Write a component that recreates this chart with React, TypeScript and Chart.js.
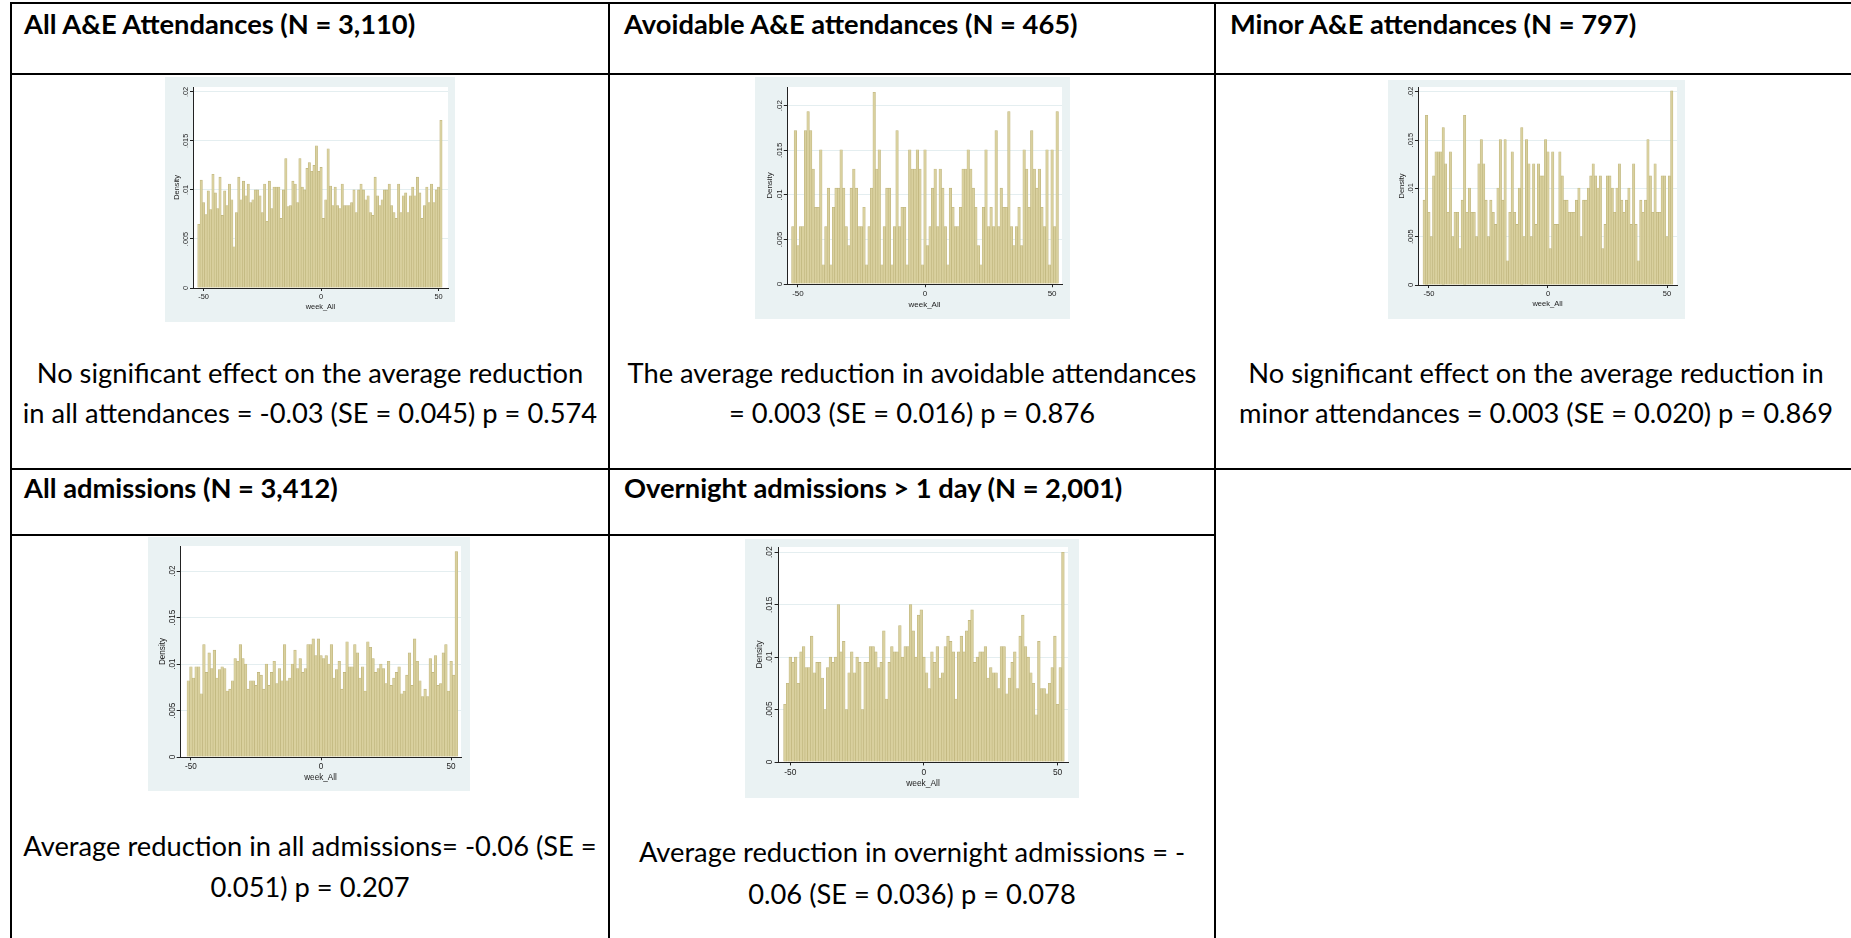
import React, { useEffect, useRef } from "react";
import { Chart, registerables } from "chart.js";

Chart.register(...registerables);

// ---------- data ----------
const WEEK_TICKS = [-50, 0, 50];
const DENSITY_TICKS = [0, 0.005, 0.01, 0.015, 0.02];
const DENSITY_LABELS = ["0", ".005", ".01", ".015", ".02"];

const ALL_AE_START = -52;
const ALL_AE = [
  0.0065, 0.011, 0.0087, 0.0075, 0.0099, 0.008, 0.0116, 0.0097, 0.0081, 0.0113,
  0.0074, 0.0099, 0.0084, 0.0106, 0.009, 0.0042, 0.0077, 0.0113, 0.009, 0.0109,
  0.0094, 0.0106, 0.0087, 0.009, 0.01, 0.01, 0.0094, 0.0077, 0.0106, 0.0068,
  0.0109, 0.0081, 0.0103, 0.0103, 0.0103, 0.0071, 0.01, 0.0132, 0.0083, 0.0084,
  0.0109, 0.0106, 0.0087, 0.0132, 0.0103, 0.01, 0.0122, 0.0128, 0.0119, 0.0125,
  0.0145, 0.0119, 0.0123, 0.0071, 0.009, 0.0142, 0.0104, 0.0084, 0.0103, 0.0084,
  0.0081, 0.0106, 0.0084, 0.0084, 0.0084, 0.0087, 0.01, 0.0077, 0.01, 0.0106,
  0.01, 0.009, 0.0094, 0.0077, 0.0074, 0.0113, 0.0094, 0.0084, 0.009, 0.01,
  0.01, 0.0106, 0.0084, 0.0077, 0.0071, 0.0106, 0.0077, 0.0094, 0.0097, 0.0077,
  0.0094, 0.0103, 0.0094, 0.0113, 0.0097, 0.0071, 0.0084, 0.0103, 0.0087, 0.0106,
  0.0087, 0.01, 0.0103, 0.0171,
];

const AVOIDABLE_START = -52;
const AVOIDABLE = [
  0.00645, 0.0172, 0.0043, 0.00645, 0.00645, 0.0172, 0.01935, 0.0172, 0.0129, 0.0086,
  0.0086, 0.01505, 0.00215, 0.00645, 0.01075, 0.00215, 0.0086, 0.01075, 0.01075, 0.01505,
  0.01075, 0.00645, 0.0043, 0.01075, 0.0129, 0.01075, 0.00645, 0.00645, 0.0086, 0.00215,
  0.00645, 0.01075, 0.0215, 0.0129, 0.01505, 0.00215, 0.00645, 0.01075, 0.01075, 0.00215,
  0.00645, 0.0172, 0.00645, 0.0086, 0.0086, 0.00215, 0.01505, 0.0129, 0.0129, 0.01505,
  0.0129, 0.00215, 0.01505, 0.0043, 0.00645, 0.01075, 0.0129, 0.00645, 0.0129, 0.01075,
  0.00645, 0.00215, 0.01075, 0.0086, 0.00645, 0.00645, 0.0086, 0.0129, 0.0129, 0.01505,
  0.0129, 0.01075, 0.0086, 0.0043, 0.00215, 0.0086, 0.01505, 0.00645, 0.0086, 0.00645,
  0.0172, 0.00645, 0.01075, 0.0086, 0.0086, 0.01935, 0.00645, 0.0043, 0.00645, 0.0086,
  0.0043, 0.01505, 0.0129, 0.0086, 0.0172, 0.0129, 0.01075, 0.0129, 0.0086, 0.00645,
  0.01505, 0.00215, 0.01505, 0.00645, 0.01935,
];

const MINOR_START = -52;
const MINOR = [
  0.00878, 0.01757, 0.00753, 0.00502, 0.0113, 0.0138, 0.0138, 0.0138, 0.0163, 0.01255,
  0.00753, 0.0138, 0.00502, 0.00753, 0.00753, 0.00376, 0.00878, 0.01757, 0.00753, 0.01004,
  0.00753, 0.00753, 0.00502, 0.01255, 0.01506, 0.01255, 0.00878, 0.00502, 0.00878, 0.00753,
  0.00627, 0.01004, 0.01506, 0.00878, 0.01506, 0.0025, 0.00753, 0.0138, 0.00753, 0.00627,
  0.01004, 0.0163, 0.00502, 0.01506, 0.01255, 0.00502, 0.01255, 0.00627,
  0.01255, 0.0113, 0.0113, 0.01506, 0.0138, 0.00376, 0.0138, 0.00627, 0.00627, 0.0138,
  0.0113, 0.00878, 0.00878, 0.00753, 0.00753, 0.00753, 0.00878, 0.01004, 0.00502, 0.00878,
  0.00878, 0.01004, 0.0113, 0.01255, 0.0113, 0.01004, 0.0113, 0.00376, 0.00627, 0.0113,
  0.0113, 0.01004, 0.00753, 0.01004, 0.01255, 0.00878, 0.00753, 0.00878, 0.01004, 0.00627,
  0.01255, 0.00627, 0.0025, 0.00878, 0.00753, 0.00878, 0.01506, 0.0113, 0.00753, 0.01255,
  0.00753, 0.00753, 0.0113, 0.0113, 0.00502, 0.0113, 0.0201,
];

const ADMISSIONS_START = -51;
const ADMISSIONS = [
  0.0082, 0.0097, 0.0085, 0.0097, 0.0097, 0.0068, 0.0121, 0.0091, 0.0112, 0.0095,
  0.0115, 0.0085, 0.0094, 0.0097, 0.0095, 0.0071, 0.0073, 0.0082, 0.0106, 0.0103,
  0.0121, 0.0106, 0.01, 0.0073, 0.0082, 0.0082, 0.0077, 0.0091, 0.0088, 0.0073,
  0.01, 0.0077, 0.0091, 0.0103, 0.0079, 0.0095, 0.0082, 0.0121, 0.0082, 0.0085,
  0.01, 0.0115, 0.0095, 0.0106, 0.0091, 0.0095, 0.0121, 0.0121, 0.0127,
  0.0109, 0.0127, 0.0109, 0.0106, 0.0109, 0.01, 0.0121, 0.0085, 0.0094, 0.0103,
  0.0073, 0.0091, 0.0124, 0.0097, 0.0097, 0.0121, 0.0112, 0.0085, 0.0097, 0.0071,
  0.0124, 0.0118, 0.0106, 0.0091, 0.0095, 0.01, 0.0095, 0.0079, 0.0103, 0.0077,
  0.0085, 0.0091, 0.0097, 0.0068, 0.0071, 0.0088, 0.0112, 0.0077, 0.0127, 0.0103,
  0.0082, 0.0065, 0.0073, 0.0065, 0.0106, 0.0091, 0.0109, 0.0077, 0.0079, 0.0112,
  0.0121, 0.0071, 0.0103, 0.0088, 0.0221,
];

const OVERNIGHT_START = -52;
const OVERNIGHT = [
  0.0055, 0.0075, 0.01, 0.0095, 0.01, 0.0075, 0.0105, 0.011, 0.009, 0.009,
  0.012, 0.0085, 0.0095, 0.0095, 0.008, 0.005, 0.009, 0.01, 0.0095, 0.01,
  0.015, 0.0105, 0.0115, 0.005, 0.0085, 0.0105, 0.0085, 0.01, 0.0095, 0.005,
  0.0095, 0.0095, 0.011, 0.011, 0.0105, 0.009, 0.0095, 0.0125, 0.006, 0.0095,
  0.011, 0.0105, 0.0105, 0.013, 0.01, 0.011, 0.011, 0.015,
  0.0125, 0.01, 0.014, 0.0145, 0.01, 0.0085, 0.007, 0.0105, 0.0095, 0.011,
  0.008, 0.0085, 0.011, 0.012, 0.0115, 0.0105, 0.006, 0.0105, 0.012, 0.0105,
  0.0125, 0.0135, 0.0145, 0.0095, 0.01, 0.0105, 0.0105, 0.011, 0.008, 0.009,
  0.0085, 0.0085, 0.007, 0.011, 0.011, 0.0065, 0.008, 0.0095, 0.0105, 0.007,
  0.012, 0.014, 0.011, 0.01, 0.0085, 0.0075, 0.0045, 0.0115, 0.007, 0.007,
  0.0065, 0.0075, 0.009, 0.012, 0.0055, 0.009, 0.02,
];

// ---------- styles ----------
const GRAPH_BG = "#EAF2F3";
const GRID = "#E4EEF0";
const BAR_FILL = "#D9D09E";
const BAR_EDGE = "#BDB37A";
const FONT_AXIS = '"Liberation Sans", Arial, sans-serif';
const FONT_TEXT = "Lato, 'Open Sans', sans-serif";

type Box = { left: number; top: number; w: number; h: number };
type Margin = { l: number; t: number; r: number; b: number };

function Histogram(props: {
  values: number[];
  start: number;
  yMax: number;
  xMin: number;
  xMax: number;
  box: Box;
  m: Margin;
  k: number;
}) {
  const { values, start, yMax, xMin, xMax, box, m, k } = props;
  const ref = useRef<HTMLCanvasElement | null>(null);
  useEffect(() => {
    const canvas = ref.current;
    if (!canvas) return;
    const fs = 7.4 * k;
    const plugin = {
      id: "stataFrame",
      beforeDraw(chart: any) {
        const { ctx, chartArea: a, width, height } = chart;
        ctx.save();
        ctx.fillStyle = GRAPH_BG;
        ctx.fillRect(0, 0, width, height);
        ctx.fillStyle = "#ffffff";
        ctx.fillRect(a.left, a.top, a.right - a.left, a.bottom - a.top);
        ctx.restore();
      },
      afterDraw(chart: any) {
        const { ctx, chartArea: a, scales } = chart;
        const ys = scales.y;
        ctx.save();
        ctx.fillStyle = "#222";
        ctx.font = `${fs}px ${FONT_AXIS}`;
        ctx.textAlign = "center";
        ctx.textBaseline = "middle";
        DENSITY_TICKS.forEach((v, i) => {
          const py = ys.getPixelForValue(v);
          ctx.save();
          ctx.translate(a.left - 7 * k, py);
          ctx.rotate(-Math.PI / 2);
          ctx.fillText(DENSITY_LABELS[i], 0, 0);
          ctx.restore();
        });
        ctx.save();
        ctx.translate(a.left - 16 * k, (a.top + a.bottom) / 2);
        ctx.rotate(-Math.PI / 2);
        ctx.fillText("Density", 0, 0);
        ctx.restore();
        ctx.fillText("week_All", (a.left + a.right) / 2, a.bottom + 19 * k);
        ctx.restore();
      },
    };
    const chart = new Chart(canvas, {
      type: "bar",
      data: {
        datasets: [
          {
            data: values.map((v, i) => ({ x: start + i, y: v })),
            backgroundColor: BAR_FILL,
            borderColor: BAR_EDGE,
            borderWidth: 0.6,
            borderSkipped: "start",
            barPercentage: 1,
            categoryPercentage: 1,
          } as any,
        ],
      },
      options: {
        animation: false,
        responsive: false,
        maintainAspectRatio: false,
        devicePixelRatio: 1,
        layout: { autoPadding: false, padding: { top: m.t, right: m.r, left: 0, bottom: 0 } },
        plugins: { legend: { display: false }, tooltip: { enabled: false } },
        scales: {
          x: {
            type: "linear",
            min: xMin,
            max: xMax,
            offset: false,
            afterBuildTicks: (s: any) => {
              s.ticks = WEEK_TICKS.map((v) => ({ value: v }));
            },
            afterFit: (s: any) => {
              s.height = m.b;
            },
            grid: {
              offset: false,
              drawOnChartArea: false,
              drawTicks: true,
              tickLength: 3 * k,
              tickColor: "#222",
              tickWidth: 1,
            },
            border: { display: true, color: "#222", width: 1 },
            ticks: {
              font: { size: fs, family: FONT_AXIS },
              color: "#222",
              padding: 1.5 * k,
              maxRotation: 0,
              autoSkip: false,
            },
          },
          y: {
            type: "linear",
            min: 0,
            max: yMax,
            afterBuildTicks: (s: any) => {
              s.ticks = DENSITY_TICKS.map((v) => ({ value: v }));
            },
            afterFit: (s: any) => {
              s.width = m.l;
            },
            grid: {
              drawOnChartArea: true,
              color: GRID,
              lineWidth: 1,
              drawTicks: true,
              tickLength: 3 * k,
              tickColor: "#222",
              tickWidth: 1,
            },
            border: { display: true, color: "#222", width: 1 },
            ticks: { display: false },
          },
        },
      } as any,
      plugins: [plugin],
    });
    return () => chart.destroy();
  }, []);
  return (
    <canvas
      ref={ref}
      width={box.w}
      height={box.h}
      style={{ position: "absolute", left: box.left, top: box.top, width: box.w, height: box.h }}
    />
  );
}

function TextLine(props: {
  text: string;
  x0: number;
  x1: number;
  cy: number;
  size: number;
  bold?: boolean;
  align?: "left" | "center";
}) {
  const { text, x0, x1, cy, size, bold, align } = props;
  const lh = Math.round(size * 1.3);
  return (
    <div
      style={{
        position: "absolute",
        left: x0,
        width: x1 - x0,
        top: cy - lh / 2,
        height: lh,
        lineHeight: `${lh}px`,
        fontSize: size,
        fontWeight: bold ? 700 : 400,
        fontFamily: FONT_TEXT,
        textAlign: align || "center",
        whiteSpace: "nowrap",
        color: "#000",
      }}
    >
      {text}
    </div>
  );
}

function HLine({ x0, x1, y }: { x0: number; x1: number; y: number }) {
  return <div style={{ position: "absolute", left: x0, top: y, width: x1 - x0, height: 2, background: "#000" }} />;
}
function VLine({ x, y0, y1 }: { x: number; y0: number; y1: number }) {
  return <div style={{ position: "absolute", left: x, top: y0, width: 2, height: y1 - y0, background: "#000" }} />;
}

export default function App() {
  const C1 = [11, 609];
  const C2 = [609, 1215];
  const C3 = [1215, 1857];
  const HS = 27.3;
  const BS = 27.3;
  return (
    <div style={{ position: "absolute", left: 0, top: 0, width: 1851, height: 938, background: "#fff", overflow: "hidden" }}>
      <HLine x0={10} x1={1851} y={2} />
      <HLine x0={10} x1={1851} y={73} />
      <HLine x0={10} x1={1851} y={468} />
      <HLine x0={10} x1={1216} y={534} />
      <VLine x={10} y0={2} y1={938} />
      <VLine x={608} y0={2} y1={938} />
      <VLine x={1214} y0={2} y1={938} />

      <TextLine text="All A&E Attendances (N = 3,110)" x0={24} x1={600} cy={23} size={HS} bold align="left" />
      <TextLine text="Avoidable A&E attendances (N = 465)" x0={624} x1={1210} cy={23} size={HS} bold align="left" />
      <TextLine text="Minor A&E attendances (N = 797)" x0={1230} x1={1850} cy={23} size={HS} bold align="left" />
      <TextLine text="All admissions (N = 3,412)" x0={24} x1={600} cy={487} size={HS} bold align="left" />
      <TextLine text="Overnight admissions > 1 day (N = 2,001)" x0={624} x1={1210} cy={487} size={HS} bold align="left" />

      <Histogram values={ALL_AE} start={ALL_AE_START} yMax={0.0205} xMin={-54.5} xMax={54}
        box={{ left: 165, top: 77, w: 290, h: 245 }} m={{ l: 28, t: 10, r: 7, b: 34 }} k={1} />
      <Histogram values={AVOIDABLE} start={AVOIDABLE_START} yMax={0.0221} xMin={-54.3} xMax={53.9}
        box={{ left: 755, top: 77, w: 315, h: 242 }} m={{ l: 32, t: 10, r: 8, b: 35 }} k={1.08} />
      <Histogram values={MINOR} start={MINOR_START} yMax={0.0205} xMin={-54.6} xMax={54.2}
        box={{ left: 1388, top: 80, w: 297, h: 239 }} m={{ l: 30, t: 7, r: 8, b: 34 }} k={1.02} />
      <Histogram values={ADMISSIONS} start={ADMISSIONS_START} yMax={0.0227} xMin={-54.2} xMax={53.8}
        box={{ left: 148, top: 537, w: 322, h: 254 }} m={{ l: 32, t: 9, r: 9, b: 34 }} k={1.1} />
      <Histogram values={OVERNIGHT} start={OVERNIGHT_START} yMax={0.0205} xMin={-54.6} xMax={53.9}
        box={{ left: 745, top: 539, w: 334, h: 259 }} m={{ l: 33, t: 8, r: 11, b: 36 }} k={1.14} />

      <TextLine text="No significant effect on the average reduction" x0={C1[0]} x1={C1[1]} cy={372} size={BS} />
      <TextLine text="in all attendances = -0.03 (SE = 0.045) p = 0.574" x0={C1[0]} x1={C1[1]} cy={412} size={BS} />
      <TextLine text="The average reduction in avoidable attendances" x0={C2[0]} x1={C2[1]} cy={372} size={BS} />
      <TextLine text="= 0.003 (SE = 0.016) p = 0.876" x0={C2[0]} x1={C2[1]} cy={412} size={BS} />
      <TextLine text="No significant effect on the average reduction in" x0={C3[0]} x1={C3[1]} cy={372} size={BS} />
      <TextLine text="minor attendances = 0.003 (SE = 0.020) p = 0.869" x0={C3[0]} x1={C3[1]} cy={412} size={BS} />
      <TextLine text="Average reduction in all admissions= -0.06 (SE =" x0={C1[0]} x1={C1[1]} cy={845} size={BS} />
      <TextLine text="0.051) p = 0.207" x0={C1[0]} x1={C1[1]} cy={886} size={BS} />
      <TextLine text="Average reduction in overnight admissions = -" x0={C2[0]} x1={C2[1]} cy={851} size={BS} />
      <TextLine text="0.06 (SE = 0.036) p = 0.078" x0={C2[0]} x1={C2[1]} cy={893} size={BS} />
    </div>
  );
}
